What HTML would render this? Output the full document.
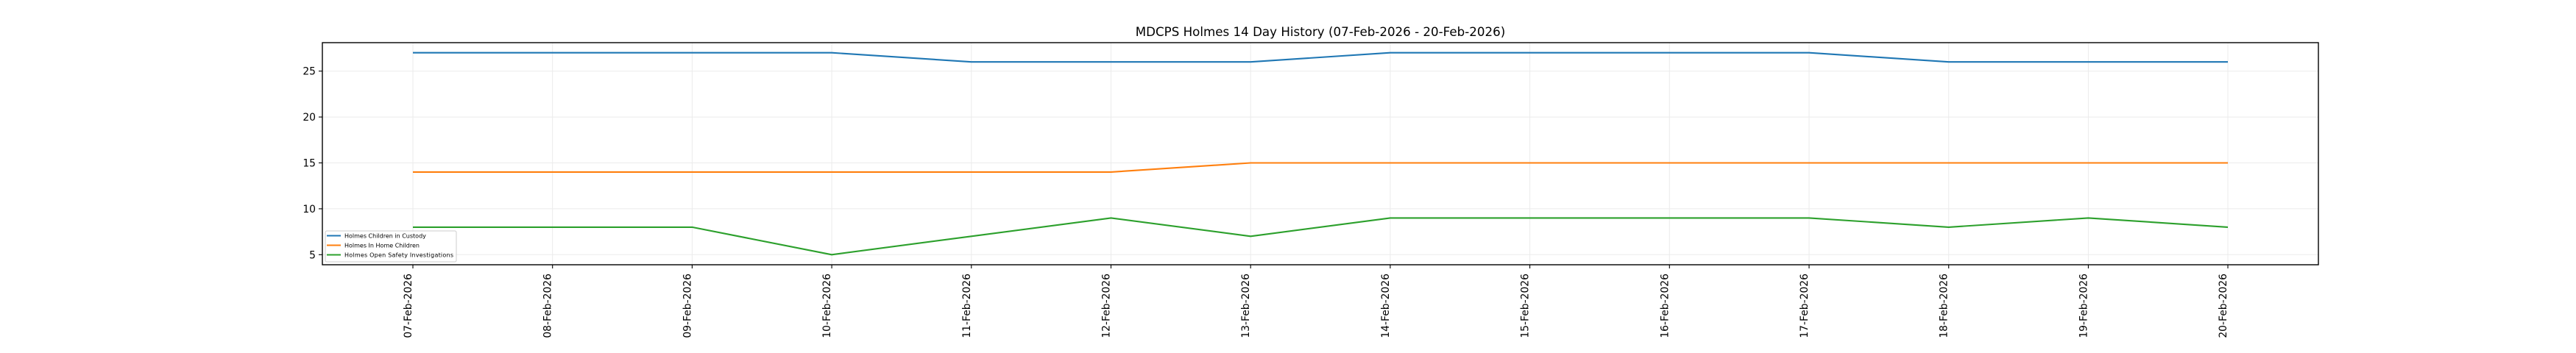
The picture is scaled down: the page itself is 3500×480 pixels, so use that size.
<!DOCTYPE html>
<html><head><meta charset="utf-8"><style>body{margin:0;background:#fff}svg{display:block}</style></head>
<body>
<svg width="3500" height="480" xmlns="http://www.w3.org/2000/svg" font-family="DejaVu Sans, Liberation Sans, sans-serif">
<rect width="3500" height="480" fill="#fff"/>
<text x="1794" y="49" font-size="16.7" text-anchor="middle">MDCPS Holmes 14 Day History (07-Feb-2026 - 20-Feb-2026)</text>
<g stroke="#ebebeb" stroke-width="1">
<line x1="438" x2="3150" y1="346.3" y2="346.3"/><line x1="438" x2="3150" y1="283.9" y2="283.9"/><line x1="438" x2="3150" y1="221.5" y2="221.5"/><line x1="438" x2="3150" y1="159.1" y2="159.1"/><line x1="438" x2="3150" y1="96.7" y2="96.7"/>
<line x1="561" x2="561" y1="58" y2="360"/><line x1="750.7" x2="750.7" y1="58" y2="360"/><line x1="940.4" x2="940.4" y1="58" y2="360"/><line x1="1130.1" x2="1130.1" y1="58" y2="360"/><line x1="1319.8" x2="1319.8" y1="58" y2="360"/><line x1="1509.5" x2="1509.5" y1="58" y2="360"/><line x1="1699.2" x2="1699.2" y1="58" y2="360"/><line x1="1888.9" x2="1888.9" y1="58" y2="360"/><line x1="2078.6" x2="2078.6" y1="58" y2="360"/><line x1="2268.3" x2="2268.3" y1="58" y2="360"/><line x1="2458" x2="2458" y1="58" y2="360"/><line x1="2647.7" x2="2647.7" y1="58" y2="360"/><line x1="2837.4" x2="2837.4" y1="58" y2="360"/><line x1="3027" x2="3027" y1="58" y2="360"/>
</g>
<g fill="none" stroke-width="2.1" stroke-linejoin="round">
<polyline stroke="#1f77b4" points="561,71.7 750.7,71.7 940.4,71.7 1130.1,71.7 1319.8,84.2 1509.5,84.2 1699.2,84.2 1888.9,71.7 2078.6,71.7 2268.3,71.7 2458,71.7 2647.7,84.2 2837.4,84.2 3027,84.2"/>
<polyline stroke="#ff7f0e" points="561,233.9 750.7,233.9 940.4,233.9 1130.1,233.9 1319.8,233.9 1509.5,233.9 1699.2,221.5 1888.9,221.5 2078.6,221.5 2268.3,221.5 2458,221.5 2647.7,221.5 2837.4,221.5 3027,221.5"/>
<polyline stroke="#2ca02c" points="561,308.9 750.7,308.9 940.4,308.9 1130.1,346.3 1319.8,321.3 1509.5,296.4 1699.2,321.3 1888.9,296.4 2078.6,296.4 2268.3,296.4 2458,296.4 2647.7,308.9 2837.4,296.4 3027,308.9"/>
</g>
<rect x="438" y="58" width="2712" height="302" fill="none" stroke="#000" stroke-width="1.4"/>
<g stroke="#000" stroke-width="1.1">
<line x1="433" x2="438" y1="346.3" y2="346.3"/><line x1="433" x2="438" y1="283.9" y2="283.9"/><line x1="433" x2="438" y1="221.5" y2="221.5"/><line x1="433" x2="438" y1="159.1" y2="159.1"/><line x1="433" x2="438" y1="96.7" y2="96.7"/>
</g>
<g font-size="13.9" text-anchor="end">
<text x="429" y="351.3">5</text><text x="429" y="288.9">10</text><text x="429" y="226.5">15</text><text x="429" y="164.1">20</text><text x="429" y="101.7">25</text>
</g>
<g stroke="#000" stroke-width="1.1">
<line x1="561" x2="561" y1="360" y2="365"/><line x1="750.7" x2="750.7" y1="360" y2="365"/><line x1="940.4" x2="940.4" y1="360" y2="365"/><line x1="1130.1" x2="1130.1" y1="360" y2="365"/><line x1="1319.8" x2="1319.8" y1="360" y2="365"/><line x1="1509.5" x2="1509.5" y1="360" y2="365"/><line x1="1699.2" x2="1699.2" y1="360" y2="365"/><line x1="1888.9" x2="1888.9" y1="360" y2="365"/><line x1="2078.6" x2="2078.6" y1="360" y2="365"/><line x1="2268.3" x2="2268.3" y1="360" y2="365"/><line x1="2458" x2="2458" y1="360" y2="365"/><line x1="2647.7" x2="2647.7" y1="360" y2="365"/><line x1="2837.4" x2="2837.4" y1="360" y2="365"/><line x1="3027" x2="3027" y1="360" y2="365"/>
</g>
<g font-size="13.9" text-anchor="end">
<text transform="translate(559,372) rotate(-90)">07-Feb-2026</text>
<text transform="translate(748.7,372) rotate(-90)">08-Feb-2026</text>
<text transform="translate(938.4,372) rotate(-90)">09-Feb-2026</text>
<text transform="translate(1128.1,372) rotate(-90)">10-Feb-2026</text>
<text transform="translate(1317.8,372) rotate(-90)">11-Feb-2026</text>
<text transform="translate(1507.5,372) rotate(-90)">12-Feb-2026</text>
<text transform="translate(1697.2,372) rotate(-90)">13-Feb-2026</text>
<text transform="translate(1886.9,372) rotate(-90)">14-Feb-2026</text>
<text transform="translate(2076.6,372) rotate(-90)">15-Feb-2026</text>
<text transform="translate(2266.3,372) rotate(-90)">16-Feb-2026</text>
<text transform="translate(2456,372) rotate(-90)">17-Feb-2026</text>
<text transform="translate(2645.7,372) rotate(-90)">18-Feb-2026</text>
<text transform="translate(2835.4,372) rotate(-90)">19-Feb-2026</text>
<text transform="translate(3025,372) rotate(-90)">20-Feb-2026</text>
</g>
<rect x="442" y="314" width="178" height="42" rx="2" fill="#fff" fill-opacity="0.8" stroke="#ccc" stroke-width="1"/>
<g stroke-width="2">
<line x1="444" x2="463" y1="320.5" y2="320.5" stroke="#1f77b4"/>
<line x1="444" x2="463" y1="333.5" y2="333.5" stroke="#ff7f0e"/>
<line x1="444" x2="463" y1="346.5" y2="346.5" stroke="#2ca02c"/>
</g>
<g font-size="8">
<text x="468" y="323.5">Holmes Children in Custody</text>
<text x="468" y="336.5">Holmes In Home Children</text>
<text x="468" y="349.5" textLength="148">Holmes Open Safety Investigations</text>
</g>
</svg>
</body></html>
